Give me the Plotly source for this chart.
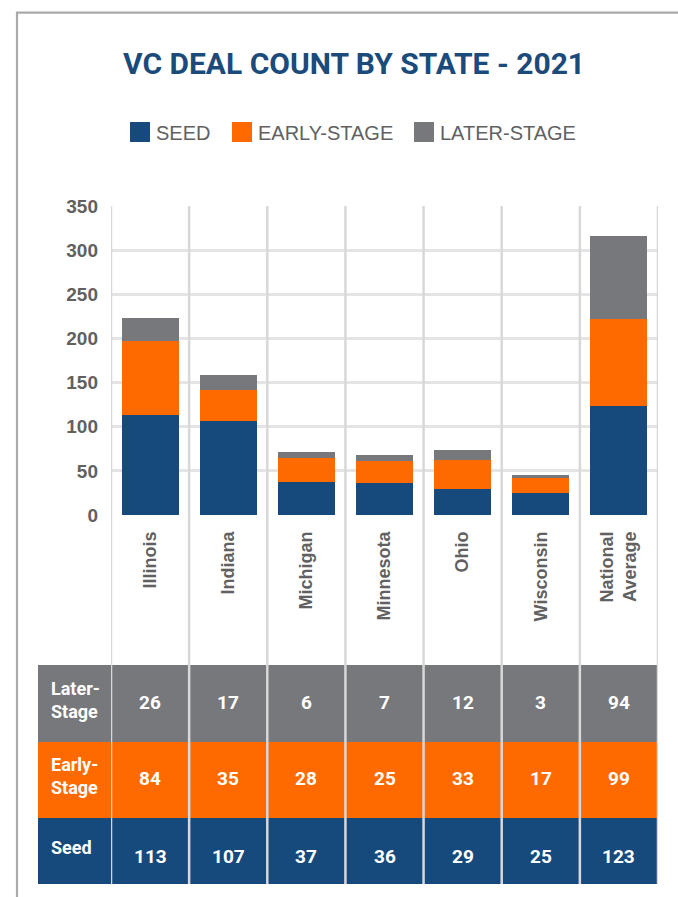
import plotly.graph_objects as go

# ---- data ----
states = ["Illinois", "Indiana", "Michigan", "Minnesota", "Ohio", "Wisconsin", "National Average"]
state_labels = ["Illinois", "Indiana", "Michigan", "Minnesota", "Ohio", "Wisconsin", "National<br>Average"]
seed = [113, 107, 37, 36, 29, 25, 123]
early_stage = [84, 35, 28, 25, 33, 17, 99]
later_stage = [26, 17, 6, 7, 12, 3, 94]
series_names = ["SEED", "EARLY-STAGE", "LATER-STAGE"]
row_headers = ["Later-<br>Stage", "Early-<br>Stage", "Seed"]
y_ticks = [0, 50, 100, 150, 200, 250, 300, 350]

# ---- style ----
C_SEED = "#174a7c"
C_EARLY = "#ff6a00"
C_LATER = "#77787b"
TITLE_C = "#1b4b7b"
TXT = "#616161"
GRID = "#e4e4e6"
SEP = "#d8d8da"
SANS = "Liberation Sans, Arial"
COND = "Roboto, Liberation Sans, Arial"

W, H = 678, 897
# target page-pixel geometry of the plot area / table
L_PX, R_PX, T_PX, B_PX = 111, 658, 206, 884
ML, MR = L_PX, W - R_PX
MT, MB = T_PX, H - B_PX
PW = W - ML - MR
PH = H - MT - MB


def px_x(px):
    return (px - L_PX) / PW


def px_y(py):
    return (B_PX - py) / PH


fig = go.Figure()
for name, vals, col in zip(series_names, [seed, early_stage, later_stage], [C_SEED, C_EARLY, C_LATER]):
    fig.add_bar(x=states, y=vals, name=name, marker_color=col, marker_line_width=0,
                showlegend=False)

shapes = []
annotations = []

# table rows
rows = [
    (later_stage, C_LATER, 665, 742, 702, 700),
    (early_stage, C_EARLY, 742, 818, 778, 776),
    (seed, C_SEED, 818, 884, 856, 847),
]
for (vals, col, top, bot, ty, hy), hdr in zip(rows, row_headers):
    shapes.append(dict(type="rect", xref="paper", yref="paper",
                       x0=px_x(38), x1=1, y0=px_y(bot), y1=px_y(top),
                       fillcolor=col, line_width=0, layer="below"))
    annotations.append(dict(text=hdr, xref="paper", yref="paper", x=px_x(49), y=px_y(hy),
                            xanchor="left", yanchor="middle", align="left", showarrow=False,
                            font=dict(family=COND, size=18, color="white", weight="bold")))
    for s, v in zip(states, vals):
        annotations.append(dict(text=str(v), xref="x", yref="paper", x=s, y=px_y(ty),
                                xanchor="center", yanchor="middle", showarrow=False,
                                font=dict(family=COND, size=19, color="white", weight="bold")))

# vertical separators
for i in range(len(states) + 1):
    shapes.append(dict(type="line", xref="x", yref="paper", x0=i - 0.5, x1=i - 0.5,
                       y0=0, y1=1, line=dict(color=SEP, width=2.5), layer="above"))

# frame
shapes.append(dict(type="line", xref="paper", yref="paper", x0=px_x(16), x1=px_x(700),
                   y0=px_y(12.7), y1=px_y(12.7), line=dict(color="#aaaaaa", width=2.2)))
shapes.append(dict(type="line", xref="paper", yref="paper", x0=px_x(17), x1=px_x(17),
                   y0=px_y(12), y1=px_y(930), line=dict(color="#aaaaaa", width=2.2)))

# title
annotations.append(dict(text="VC DEAL COUNT BY STATE - 2021", xref="paper", yref="paper",
                        x=px_x(354), y=px_y(63), xanchor="center", yanchor="middle",
                        showarrow=False,
                        font=dict(family=COND, size=30, color=TITLE_C, weight="bold")))

# legend (manual swatches)
leg = [(130, C_SEED), (232, C_EARLY), (414, C_LATER)]
for (lx, col), name in zip(leg, series_names):
    shapes.append(dict(type="rect", xref="paper", yref="paper", x0=px_x(lx), x1=px_x(lx + 20),
                       y0=px_y(142), y1=px_y(122), fillcolor=col, line_width=0))
    annotations.append(dict(text=name, xref="paper", yref="paper", x=px_x(lx + 24), y=px_y(132.5),
                            xanchor="left", yanchor="middle", showarrow=False,
                            font=dict(family=SANS, size=20, color=TXT)))

fig.update_layout(
    width=W, height=H,
    margin=dict(l=ML, r=MR, t=MT, b=MB, pad=0),
    paper_bgcolor="white", plot_bgcolor="white",
    barmode="stack", bargap=0.27,
    shapes=shapes, annotations=annotations,
    showlegend=False,
    xaxis=dict(range=[-0.5, len(states) - 0.5], showgrid=False, zeroline=False, showline=False,
               tickangle=-90, tickmode="array", tickvals=states, ticktext=state_labels,
               ticks="", ticklabelstandoff=12, automargin=False,
               tickfont=dict(family=SANS, size=18, color=TXT, weight="bold")),
    yaxis=dict(domain=[px_y(515), 1], range=[0, 350], tickvals=y_ticks,
               showgrid=True, gridcolor=GRID, gridwidth=2.5, zeroline=False, showline=False,
               ticks="", ticklabelstandoff=12, automargin=False,
               tickfont=dict(family=SANS, size=19, color=TXT, weight="bold")),
)

fig.write_html(
    "out.html",
    config={"displayModeBar": False},
    post_script="document.body.style.margin='0';document.documentElement.style.overflow='hidden';",
)
